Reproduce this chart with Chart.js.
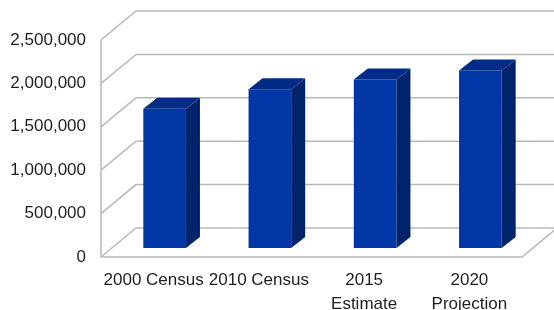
<!DOCTYPE html>
<html>
<head>
<meta charset="utf-8">
<script src="https://cdn.jsdelivr.net/npm/chart.js@4"></script>
<style>
  html, body { margin: 0; padding: 0; background: #fff; }
  #wrap { width: 554px; height: 310px; }
</style>
</head>
<body>
<div id="wrap"><canvas id="popChart" width="554" height="310"></canvas></div>
<script>
    // chart data
    const categories = ['2000 Census', '2010 Census', ['2015', 'Estimate'], ['2020', 'Projection']];
    const population = [1605000, 1830000, 1940000, 2045000];
    const yTicks = [0, 500000, 1000000, 1500000, 2000000, 2500000];

    // 3D look: depth of the box and of each bar
    const WALL_DX = 35, WALL_DY = -29;
    const BAR_OFF_DX = 11, BAR_OFF_DY = -9;
    const BAR_DX = 14, BAR_DY = -11;

    const gridColor = '#b8b8b8';

    // ============================================
    // WALLS, FLOOR AND GRIDLINES
    // ============================================
    const wallsPlugin = {
        id: 'walls',
        beforeDatasetsDraw(chart) {
            const ctx = chart.ctx;
            const area = chart.chartArea;
            const y = chart.scales.y;
            ctx.save();
            ctx.strokeStyle = gridColor;
            ctx.lineWidth = 1.5;
            ctx.beginPath();
            yTicks.forEach(function(v) {
                const py = y.getPixelForValue(v);
                // left wall diagonal
                ctx.moveTo(area.left, py);
                ctx.lineTo(area.left + WALL_DX, py + WALL_DY);
                // back wall line
                ctx.lineTo(chart.width + 5, py + WALL_DY);
            });
            // left axis
            ctx.moveTo(area.left, y.getPixelForValue(yTicks[yTicks.length - 1]));
            ctx.lineTo(area.left, area.bottom);
            // floor front edge and right edge
            ctx.lineTo(area.right, area.bottom);
            ctx.lineTo(area.right + WALL_DX, area.bottom + WALL_DY);
            ctx.stroke();
            ctx.restore();
            // bars are drawn a bit deeper in the box
            ctx.save();
            ctx.translate(BAR_OFF_DX, BAR_OFF_DY);
        },
        afterDatasetsDraw(chart) {
            const ctx = chart.ctx;
            const meta = chart.getDatasetMeta(0);
            meta.data.forEach(function(bar) {
                const left = bar.x - bar.width / 2;
                const right = bar.x + bar.width / 2;
                // side face
                ctx.fillStyle = '#00236c';
                ctx.beginPath();
                ctx.moveTo(right, bar.y);
                ctx.lineTo(right + BAR_DX, bar.y + BAR_DY);
                ctx.lineTo(right + BAR_DX, bar.base + BAR_DY);
                ctx.lineTo(right, bar.base);
                ctx.closePath();
                ctx.fill();
                // top face
                ctx.fillStyle = '#002b86';
                ctx.beginPath();
                ctx.moveTo(left, bar.y);
                ctx.lineTo(left + BAR_DX, bar.y + BAR_DY);
                ctx.lineTo(right + BAR_DX, bar.y + BAR_DY);
                ctx.lineTo(right, bar.y);
                ctx.closePath();
                ctx.fill();
            });
            ctx.restore();
        }
    };

    new Chart(document.getElementById('popChart'), {
        type: 'bar',
        data: {
            labels: categories,
            datasets: [{
                label: 'Population',
                data: population,
                backgroundColor: '#0036a6',
                borderWidth: 0,
                categoryPercentage: 1,
                barPercentage: 0.405
            }]
        },
        options: {
            responsive: false,
            animation: false,
            layout: { padding: { left: 0, top: 40, right: 32, bottom: 0 } },
            plugins: {
                legend: { display: false },
                tooltip: { enabled: false }
            },
            scales: {
                y: {
                    min: 0,
                    max: 2500000,
                    afterFit: function(scale) { scale.width = 101; },
                    afterBuildTicks: function(scale) {
                        scale.ticks = yTicks.map(function(v) { return { value: v }; });
                    },
                    grid: { display: false },
                    border: { display: false },
                    ticks: {
                        padding: 7,
                        color: '#1e1e1e',
                        font: { family: "'Liberation Sans', Arial, sans-serif", size: 17 },
                        callback: function(value) {
                            return value.toLocaleString('en-US');
                        }
                    }
                },
                x: {
                    afterFit: function(scale) { scale.height = 53; },
                    grid: { display: false },
                    border: { display: false },
                    ticks: {
                        padding: 4,
                        maxRotation: 0,
                        autoSkip: false,
                        color: '#1e1e1e',
                        font: { family: "'Liberation Sans', Arial, sans-serif", size: 17, lineHeight: 1.38 }
                    }
                }
            }
        },
        plugins: [wallsPlugin]
    });
</script>
</body>
</html>
